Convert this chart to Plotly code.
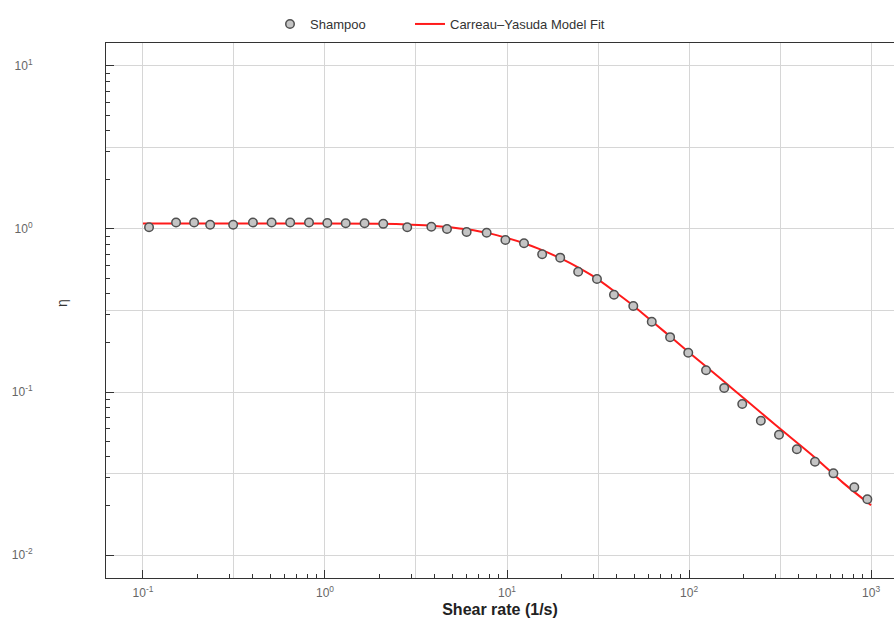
import plotly.graph_objects as go

# Measured data (Shampoo)
shear_rate = [0.108, 0.152, 0.191, 0.234, 0.313, 0.402, 0.509, 0.644, 0.817, 1.03,
              1.30, 1.65, 2.09, 2.83, 3.84, 4.68, 6.0, 7.73, 9.8, 12.4,
              15.6, 19.6, 24.6, 31.2, 38.7, 49.4, 62.4, 78.7, 99, 124,
              156, 196, 248, 312, 391, 492, 621, 809, 954]
viscosity = [1.024, 1.095, 1.095, 1.062, 1.062, 1.095, 1.095, 1.095, 1.095, 1.088,
             1.085, 1.085, 1.075, 1.024, 1.033, 1.0, 0.958, 0.949, 0.856, 0.817,
             0.70, 0.667, 0.547, 0.494, 0.395, 0.337, 0.270, 0.217, 0.174, 0.136,
             0.106, 0.0844, 0.0667, 0.0547, 0.0445, 0.0373, 0.0317, 0.026, 0.022]

# Carreau-Yasuda model fit curve
fit_rate = [0.1, 0.3, 1, 2, 3, 4, 5, 6, 8, 10, 12.5, 15, 20, 25, 30, 40, 50, 65,
            80, 100, 150, 200, 300, 500, 700, 1000]
fit_visc = [1.08, 1.08, 1.08, 1.075, 1.062, 1.045, 1.022, 0.995, 0.94, 0.88, 0.815,
            0.755, 0.655, 0.575, 0.51, 0.405, 0.335, 0.262, 0.216, 0.175, 0.12,
            0.0915, 0.0625, 0.039, 0.0278, 0.0202]

x_decades = [0.1, 1, 10, 100, 1000]
x_labels = ["10<sup>-1</sup>", "10<sup>0</sup>", "10<sup>1</sup>", "10<sup>2</sup>", "10<sup>3</sup>"]
y_decades = [0.01, 0.1, 1, 10]
y_labels = ["10<sup>-2</sup>", "10<sup>-1</sup>", "10<sup>0</sup>", "10<sup>1</sup>"]

FONT = "Liberation Sans, Arial, sans-serif"

x_half = [d * 10 ** 0.5 for d in x_decades]
y_half = [d * 10 ** 0.5 for d in y_decades]
x_minor = [m * d for d in x_decades for m in range(2, 10)]
y_minor = [m * d for d in y_decades for m in range(2, 10)]

x_range = [-1.203, 3.126]
y_range = [-2.141, 1.141]

GRID = "#d6d6d6"
AXIS = "#333333"

FIG_W, FIG_H = 894, 623
PLOT_L, PLOT_T, PLOT_B = 106, 43, 578   # plot-area edges in figure pixels
PLOT_W, PLOT_H = FIG_W - PLOT_L, PLOT_B - PLOT_T

fig = go.Figure()
fig.add_trace(go.Scatter(
    x=shear_rate, y=viscosity, mode="markers", name="Shampoo",
    xaxis="x2", yaxis="y2", legend="legend",
    marker=dict(symbol="circle", size=8.5, color="#c4c4c4",
                line=dict(color="#505050", width=1.5)),
))
fig.add_trace(go.Scatter(
    x=fit_rate, y=fit_visc, mode="lines", name="Carreau\u2013Yasuda Model Fit",
    legend="legend2",
    line=dict(color="#ff1a1a", width=2, shape="spline"),
))

tick_font = dict(family=FONT, size=12, color="#666666")
leg_font = dict(family=FONT, size=13, color="#333333")

leg_y = (PLOT_B - 24) / PLOT_H

fig.update_layout(
    width=FIG_W, height=FIG_H,
    margin=dict(l=PLOT_L, r=0, t=PLOT_T, b=FIG_H - PLOT_B, autoexpand=False),
    paper_bgcolor="white", plot_bgcolor="white",
    font=dict(family=FONT, color="#333333"),
    showlegend=True,
    legend=dict(orientation="h", x=(270 - PLOT_L) / PLOT_W, xanchor="left",
                y=leg_y, yanchor="middle",
                font=leg_font, bgcolor="rgba(0,0,0,0)"),
    legend2=dict(orientation="h", x=(410 - PLOT_L) / PLOT_W, xanchor="left",
                 y=leg_y, yanchor="middle",
                 font=leg_font, bgcolor="rgba(0,0,0,0)"),
    xaxis=dict(
        type="log", range=x_range, tickmode="array", tickvals=x_decades, ticktext=x_labels,
        showgrid=True, gridcolor=GRID, gridwidth=1, zeroline=False, automargin=False,
        ticks="inside", ticklen=8, tickcolor=AXIS, tickwidth=1,
        showline=True, linecolor=AXIS, linewidth=1, mirror=True,
        tickfont=tick_font, ticklabelstandoff=4,
        title=dict(text="<b>Shear rate (1/s)</b>", font=dict(family=FONT, size=16, color="#222222"),
                   standoff=4),
        minor=dict(tickmode="array", tickvals=x_minor, ticks="inside", ticklen=4,
                   tickcolor=AXIS, tickwidth=1, showgrid=False),
    ),
    yaxis=dict(
        type="log", range=y_range, tickmode="array", tickvals=y_decades, ticktext=y_labels,
        showgrid=True, gridcolor=GRID, gridwidth=1, zeroline=False, automargin=False,
        ticks="inside", ticklen=8, tickcolor=AXIS, tickwidth=1,
        showline=True, linecolor=AXIS, linewidth=1, mirror=False,
        tickfont=tick_font, ticklabelstandoff=70,
        minor=dict(tickmode="array", tickvals=y_minor, ticks="inside", ticklen=4,
                   tickcolor=AXIS, tickwidth=1, showgrid=False),
    ),
    xaxis2=dict(
        type="log", range=x_range, overlaying="x", anchor="y2", side="bottom",
        tickmode="array", tickvals=x_half, ticks="", showticklabels=False,
        showgrid=True, gridcolor=GRID, gridwidth=1, showline=False, zeroline=False,
        automargin=False,
    ),
    yaxis2=dict(
        type="log", range=y_range, overlaying="y", anchor="x2", side="left",
        tickmode="array", tickvals=y_half, ticks="", showticklabels=False,
        showgrid=True, gridcolor=GRID, gridwidth=1, showline=False, zeroline=False,
        automargin=False,
    ),
    annotations=[dict(text="\u03b7", xref="paper", yref="paper",
                      x=(62 - PLOT_L) / PLOT_W, y=(PLOT_B - 303) / PLOT_H,
                      xanchor="center", yanchor="middle", textangle=-90, showarrow=False,
                      font=dict(family=FONT, size=14, color="#333333"))],
)

# remove the browser's default 8px page margin so the figure fills the window exactly
fig.write_html(
    "out.html",
    config={"displayModeBar": False},
    post_script="document.body.style.margin='0';document.body.style.overflow='hidden';",
)
